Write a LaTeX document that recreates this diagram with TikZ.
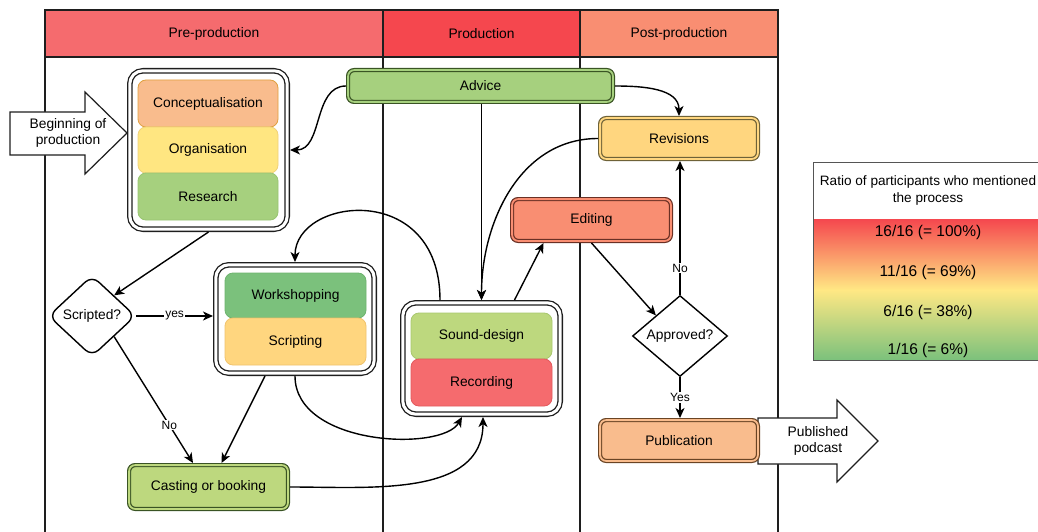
\documentclass[tikz,border=0pt]{standalone}
\usepackage{fontspec}
\setmainfont{Liberation Sans}
\usetikzlibrary{shapes.geometric,arrows.meta,calc}
\definecolor{hdrA}{HTML}{F56B6E}
\definecolor{hdrB}{HTML}{F5474E}
\definecolor{hdrC}{HTML}{F98E72}
\definecolor{cPeach}{HTML}{F9BC8D}
\definecolor{cPeachD}{HTML}{E0A040}
\definecolor{cYellow}{HTML}{FFE681}
\definecolor{cYellowD}{HTML}{F0D27A}
\definecolor{cGreen}{HTML}{A6D07E}
\definecolor{cGreenD}{HTML}{98C472}
\definecolor{cGold}{HTML}{FFD67F}
\definecolor{cGoldD}{HTML}{F0C36E}
\definecolor{cSalmon}{HTML}{F98E72}
\definecolor{cDGreen}{HTML}{7BC17C}
\definecolor{cDGreenD}{HTML}{6DB36E}
\definecolor{cLGreen}{HTML}{BDD87E}
\definecolor{cLGreenD}{HTML}{A8C76E}
\definecolor{cRed}{HTML}{F56B6E}
\definecolor{cRedD}{HTML}{E35A5E}
\definecolor{bGreen}{HTML}{3A5424}
\definecolor{bGold}{HTML}{6E6238}
\definecolor{bSalmon}{HTML}{6A3024}
\definecolor{bPeach}{HTML}{6A4424}
\definecolor{lineC}{HTML}{1E1E1E}
\definecolor{legC}{HTML}{555555}
\definecolor{lgRed}{HTML}{F5474E}
\definecolor{lgOrange}{HTML}{F99072}
\definecolor{lgYellow}{HTML}{FFE884}
\definecolor{lgLGreen}{HTML}{C6DA80}
\definecolor{lgGreen}{HTML}{7BC17C}
\begin{document}
\begin{tikzpicture}[x=1pt,y=-1pt,
  every node/.style={font=\fontsize{13.8}{16.8}\selectfont, text=black},
  lane/.style={draw=lineC, line width=1.5pt},
  hdr/.style={draw=lineC, line width=1.5pt, minimum height=47pt, inner sep=0pt},
  grp/.style={draw=lineC, fill=white, double=white, line width=1.3pt, double distance=3pt,
    rounded corners=13pt, inner sep=0pt, outer sep=2.8pt},
  sub/.style={rounded corners=8pt, line width=0.8pt, inner sep=0pt},
  dbox/.style={line width=1.2pt, double distance=1.8pt, rounded corners=6pt,
    inner sep=0pt, outer sep=2.1pt},
  arrowshape/.style={draw=lineC, fill=white, line width=1.2pt},
  decision/.style={diamond, draw=black, fill=white, line width=1.4pt, inner sep=0pt, aspect=1},
  conn/.style={draw=black, line width=1.4pt, -{Stealth[length=10pt,width=9pt,inset=2.8pt]}},
  lbl/.style={fill=white, font=\fontsize{12}{14}\selectfont, inner sep=1pt}]
\useasboundingbox (0,0) rectangle (1038,532);

% swimlanes
\draw[lane] (45,57) -- (45,545);
\draw[lane] (383,57) -- (383,545);
\draw[lane] (580,57) -- (580,545);
\draw[lane] (778,57) -- (778,545);
\node[hdr, fill=hdrA, minimum width=338pt] (h1) at (214,33.5) {Pre-production};
\node[hdr, fill=hdrB, minimum width=197pt] (h2) at (481.5,33.5) {Production};
\node[hdr, fill=hdrC, minimum width=198pt] (h3) at (679,33.5) {Post-production};

% big arrows
\draw[arrowshape] (10,112) -- (85,112) -- (85,92) -- (127,133) -- (85,174) -- (85,155) -- (10,155) -- cycle;
\node[align=center] (begtxt) at (68,133) {Beginning of\\production};
\draw[arrowshape] (758,418) -- (837,418) -- (837,400) -- (878,441) -- (837,482) -- (837,464) -- (758,464) -- cycle;
\node[align=center] (pubtxt) at (818,441) {Published\\podcast};

% group 1
\node[grp, minimum width=157.4pt, minimum height=158.4pt] (g1) at (208.5,150) {};
\node[sub, fill=cPeach, draw=cPeachD, minimum width=140pt, minimum height=47pt] (conc) at (208,103.5) {Conceptualisation};
\node[sub, fill=cYellow, draw=cYellowD, minimum width=140pt, minimum height=46pt] (org) at (208,150) {Organisation};
\node[sub, fill=cGreen, draw=cGreenD, minimum width=140pt, minimum height=47pt] (res) at (208,196.5) {Research};

% workshop group
\node[grp, minimum width=158.4pt, minimum height=108.4pt] (wg) at (295,319) {};
\node[sub, fill=cDGreen, draw=cDGreenD, minimum width=141pt, minimum height=45pt] (ws) at (295.5,295.5) {Workshopping};
\node[sub, fill=cGold, draw=cGoldD, minimum width=141pt, minimum height=47pt] (scr) at (295.5,341.5) {Scripting};

% sound group
\node[grp, minimum width=157.4pt, minimum height=111.4pt] (sg) at (481.5,358.5) {};
\node[sub, fill=cLGreen, draw=cLGreenD, minimum width=141pt, minimum height=46pt] (sd) at (481.5,336) {Sound-design};
\node[sub, fill=cRed, draw=cRedD, minimum width=141pt, minimum height=47pt] (rec) at (481.5,382.5) {Recording};

% double boxes
\node[dbox, draw=bGreen, fill=cGreen, double=cGreen, minimum width=264.8pt, minimum height=31.8pt] (adv) at (480.5,86) {Advice};
\node[dbox, draw=bGold, fill=cGold, double=cGold, minimum width=157.8pt, minimum height=40.8pt] (rev) at (679,138.5) {Revisions};
\node[dbox, draw=bSalmon, fill=cSalmon, double=cSalmon, minimum width=158.8pt, minimum height=41.8pt] (edit) at (591.5,220) {Editing};
\node[dbox, draw=bGreen, fill=cLGreen, double=cLGreen, minimum width=158.8pt, minimum height=43.8pt] (cast) at (208.5,487) {Casting or booking};
\node[dbox, draw=bPeach, fill=cPeach, double=cPeach, minimum width=157.8pt, minimum height=40.8pt] (pub) at (679,440.5) {Publication};

% decisions
\node[decision, rounded corners=9pt, minimum width=87pt, minimum height=81pt] (sq) at (92,316) {Scripted?};
\node[decision, minimum width=95pt, minimum height=81pt] (ap) at (680,336) {Approved?};

% legend
\shade[top color=lgRed, middle color=lgOrange, bottom color=lgYellow] (813,219) rectangle (1045,290);
\shade[top color=lgYellow, middle color=lgLGreen, bottom color=lgGreen] (813,290) rectangle (1045,360);
\draw[legC, line width=0.8pt] (813,162) rectangle (1045,360);
\node[align=center, font=\fontsize{13.6}{17}\selectfont] (lgh) at (928,190.5) {Ratio of participants who mentioned\\the process};
\node[font=\fontsize{15.5}{18}\selectfont] (v1) at (928,232) {16/16 (= 100\%)};
\node[font=\fontsize{15.5}{18}\selectfont] (v2) at (928,272) {11/16 (= 69\%)};
\node[font=\fontsize{15.5}{18}\selectfont] (v3) at (928,312) {6/16 (= 38\%)};
\node[font=\fontsize{15.5}{18}\selectfont] (v4) at (928,350) {1/16 (= 6\%)};

% connectors
\draw[conn] (adv.west) to[out=180,in=0] (g1.east);
\draw[conn] (adv.east) to[out=0,in=90] (rev.north);
\draw[conn] (adv.south -| sg.north) -- (sg.north);
\draw[conn] (rev.west) to[out=180,in=90] (sg.north);
\draw[conn] ([xshift=33pt]sg.north) -- ([xshift=-48pt]edit.south);
\draw[conn] ([xshift=-41.5pt]sg.north) .. controls +(0,-120) and +(0,-65) .. (wg.north);
\draw[conn] (g1.south) -- (sq.north east);
\draw[conn] (sq.east) -- (sq.east -| wg.west) node[lbl, midway] {yes};
\draw[conn] (sq.south east) -- ([xshift=-15.5pt]cast.north) node[lbl, pos=0.7] {No};
\draw[conn] ([xshift=-30pt]wg.south) -- ([xshift=13pt]cast.north);
\draw[conn] (wg.south) .. controls +(0,70) and +(-20,35) .. ([xshift=-19.5pt]sg.south);
\draw[conn] (cast.east) to[out=0,in=270] ([xshift=1.5pt]sg.south);
\draw[conn] (edit.south) -- (ap.north west);
\draw[conn] (ap.north) -- (ap.north |- rev.south) node[lbl, pos=0.2] {No};
\draw[conn] (ap.south) -- (ap.south |- pub.north) node[lbl, midway] {Yes};
\end{tikzpicture}
\end{document}
